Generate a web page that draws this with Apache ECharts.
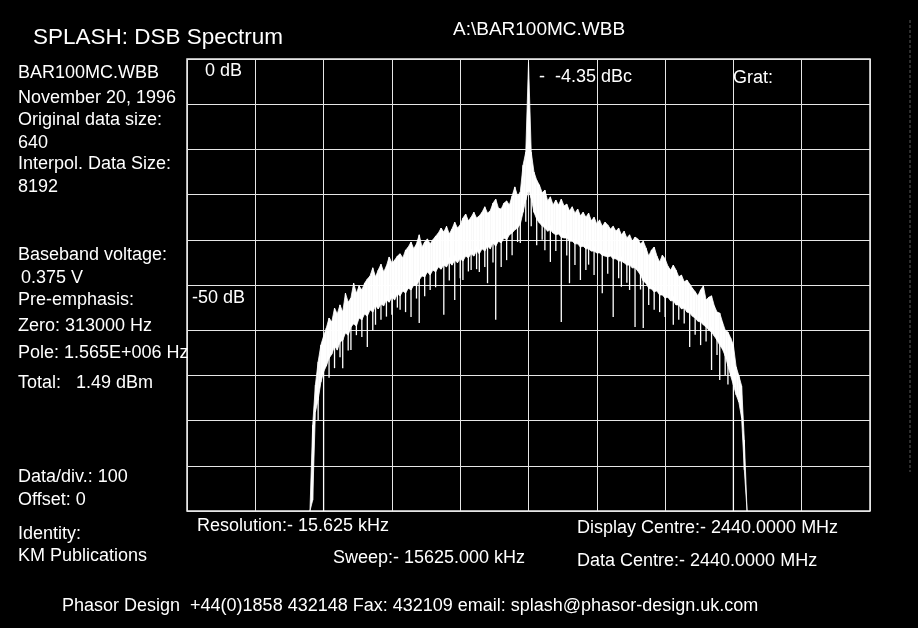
<!DOCTYPE html>
<html>
<head>
<meta charset="utf-8">
<script src="https://cdn.jsdelivr.net/npm/echarts@6/dist/echarts.min.js"></script>
<style>
html,body{margin:0;padding:0;background:#000;}
#c{width:918px;height:628px;}
</style>
</head>
<body>
<div id="c"></div>
<script>
// Sweep: 15625 kHz span, centre 2440 MHz, 10 divisions; level 0 .. -100 dB, 10 dB/div
const spanMinKHz = -7812.5, spanMaxKHz = 7812.5, divKHz = 1562.5;
const levelMin = -100, levelMax = 0, divDb = 10;

// Spectrum trace sampled every 62.5 kHz from -5000 kHz to +5000 kHz
const startKHz = -5000, stepKHz = 62.5;
// upper edge of the trace (dB)
const upperDb = [
-100.0,-81.0,-72.1,-67.0,-63.3,-61.3,-59.5,-57.3,-58.2,-55.1,
-56.4,-54.4,-56.0,-51.8,-53.8,-52.9,-49.6,-51.8,-50.2,-51.1,
-49.6,-48.7,-48.0,-46.2,-48.2,-46.7,-45.4,-47.1,-45.8,-43.8,
-45.1,-44.5,-43.6,-43.1,-44.0,-42.3,-41.6,-40.5,-42.0,-40.9,
-38.9,-41.6,-40.5,-39.8,-40.9,-40.0,-39.2,-38.5,-37.4,-38.3,
-37.0,-38.7,-37.6,-36.1,-37.4,-36.7,-35.2,-34.3,-35.8,-35.0,
-33.9,-35.2,-34.7,-33.9,-32.7,-34.1,-33.6,-31.9,-31.0,-33.0,
-33.2,-31.9,-31.4,-32.3,-30.3,-28.3,-30.3,-29.4,-23.5,-20.6,
-0.7,
-20.6,-25.0,-26.8,-27.9,-29.6,-29.0,-31.4,-30.5,-32.3,-31.2,
-32.3,-31.0,-32.5,-32.1,-33.6,-32.7,-34.1,-33.2,-34.7,-33.9,
-35.0,-34.1,-35.8,-35.0,-36.5,-35.6,-37.0,-36.1,-36.7,-37.6,
-37.0,-38.1,-37.4,-38.9,-38.1,-39.6,-38.9,-40.3,-39.4,-39.8,
-40.9,-40.3,-41.8,-43.6,-42.3,-41.6,-43.6,-44.9,-43.4,-44.2,
-45.8,-46.7,-45.6,-46.7,-48.2,-47.8,-49.3,-48.9,-49.8,-50.7,
-51.5,-52.4,-51.1,-50.2,-53.3,-52.7,-52.4,-54.6,-56.0,-56.2,
-58.2,-60.0,-60.4,-61.7,-63.3,-68.1,-70.1,-72.3,-84.3,-100.0
];
// lower edge of the dense trace body (dB)
const lowerDb = [
-100.0,-97.6,-78.1,-75.4,-71.5,-69.2,-67.9,-66.2,-65.3,-63.5,
-64.4,-62.6,-62.2,-60.6,-61.1,-59.3,-58.6,-59.1,-57.3,-57.7,
-56.4,-56.9,-55.5,-56.0,-54.6,-55.3,-54.2,-54.6,-53.3,-53.8,
-52.7,-53.3,-52.0,-52.4,-51.3,-51.8,-50.7,-51.1,-50.0,-50.2,
-48.9,-48.0,-48.2,-47.1,-47.8,-46.7,-47.1,-46.0,-46.5,-45.6,
-46.0,-44.9,-45.6,-44.5,-45.1,-44.2,-44.7,-43.6,-44.0,-43.1,
-43.6,-42.5,-43.1,-42.0,-42.5,-41.4,-42.0,-40.7,-41.4,-40.3,
-40.7,-39.6,-40.0,-38.9,-38.5,-37.8,-37.4,-36.5,-33.9,-31.2,
-29.0,
-30.8,-33.9,-35.4,-36.3,-36.9,-37.4,-38.1,-37.8,-38.5,-38.9,
-38.7,-39.4,-39.6,-39.6,-40.3,-40.3,-40.9,-40.9,-41.6,-41.4,
-42.0,-42.0,-42.5,-42.5,-42.9,-42.9,-43.4,-43.6,-43.8,-43.6,
-44.2,-44.2,-44.7,-44.7,-45.1,-45.6,-45.6,-46.2,-46.2,-46.9,
-47.8,-49.1,-49.6,-50.7,-50.9,-51.5,-51.3,-52.2,-52.2,-52.9,
-52.7,-53.5,-53.5,-54.4,-54.4,-55.3,-55.1,-56.0,-56.2,-56.9,
-57.3,-58.0,-58.2,-58.8,-59.3,-60.0,-60.4,-61.3,-62.2,-63.3,
-64.2,-65.7,-67.9,-70.1,-72.1,-74.3,-75.9,-79.4,-90.9,-100.0
];
// downward spikes below the trace body (frequency kHz, level dB)
const spikeKHz = [-4687.5,-4437.5,-4250,-4062.5,-3937.5,-3687.5,-3500,-3375,-3125,-2937.5,
-2687.5,-2500,-2250,-1937.5,-1687.5,-1500,-1312.5,-1125,-937.5,-750,-500,-375,-187.5,
187.5,375,500,750,937.5,1062.5,1187.5,1312.5,1500,1687.5,1937.5,2125,2312.5,2437.5,
2625,2750,2875,3125,3312.5,3437.5,3687.5,3937.5,4187.5,4375,4500,4687.5,
-4812.5,-4562.5,-4312.5,-4125,-3812.5,-3562.5,-3250,-3000,-2812.5,-2562.5,-2375,-2125,
-1812.5,-1562.5,-1375,-1187.5,-1000,-812.5,-625,-250,-62.5,62.5,312.5,625,875,1375,
1812.5,2062.5,2250,2562.5,3000,3562.5,3812.5,4062.5,4312.5,4562.5];
const spikeDb = [-100,-68.4,-68.4,-64.4,-61.1,-63.7,-58.8,-57.7,-56.6,-55.5,
-57.1,-58.4,-51.1,-56.6,-53.3,-48.9,-46.7,-47.1,-49.6,-57.7,-44.5,-43.4,-40.7,
-41.2,-42.3,-44.9,-58.2,-49.6,-45.6,-48.9,-46.7,-47.8,-51.8,-57.1,-50.4,-51.1,-59.3,
-59.5,-54.4,-55.5,-57.1,-58.8,-57.7,-63.7,-63.3,-68.8,-71.0,-69.9,-100,
-80.0,-70.5,-66.0,-64.5,-61.5,-60.0,-57.0,-55.0,-56.0,-53.0,-52.5,-50.5,
-49.0,-48.5,-47.0,-46.5,-46.0,-45.0,-46.0,-40.5,-36.0,-37.0,-40.0,-42.5,-43.5,-45.5,
-47.5,-48.5,-49.5,-51.0,-56.0,-58.5,-61.0,-62.5,-65.5,-72.0];

// Texts
const titleText = 'SPLASH: DSB Spectrum';
const fileText = 'A:\\BAR100MC.WBB';
const panelTexts = ['BAR100MC.WBB','November 20, 1996','Original data size:','640','Interpol. Data Size:','8192',
 'Baseband voltage:','0.375 V','Pre-emphasis:','Zero: 313000 Hz','Pole: 1.565E+006 Hz','Total:   1.49 dBm',
 'Data/div.: 100','Offset: 0','Identity:','KM Publications'];
const gridTexts = ['0 dB','-50 dB','-  -4.35 dBc','Grat:'];
const footTexts = ['Resolution:- 15.625 kHz','Display Centre:- 2440.0000 MHz','Sweep:- 15625.000 kHz',
 'Data Centre:- 2440.0000 MHz','Phasor Design  +44(0)1858 432148 Fax: 432109 email: splash@phasor-design.uk.com'];

// Layout (pixel positions of the annotation texts)
const panelPos = [[18,73],[18,98],[18,120],[18,143],[18,164],[18,187],[18,255],[21,278],[18,300],[18,326],[18,353],[18,383],[18,477],[18,500],[18,534],[18,556]];
const gridPos = [[205,71],[192,298],[539,77],[733,78]];
const footPos = [[197,526],[577,528],[333,558],[577,561],[62,606]];

const FONT = '"Liberation Sans", Arial, sans-serif';
const freq = upperDb.map((_, i) => startKHz + i * stepKHz);

const graphics = [];
graphics.push({type:'text', left: 33, top: 26, style:{text:titleText, fill:'#fff', font:'22.5px ' + FONT}});
graphics.push({type:'text', left: 453, top: 20, style:{text:fileText, fill:'#fff', font:'19px ' + FONT}});
const addTexts = (arr, pos, size) => arr.forEach((t, i) => graphics.push({
  type:'text', x: pos[i][0], y: pos[i][1],
  style:{text:t, fill:'#fff', font: size + 'px ' + FONT, verticalAlign:'middle', align:'left'}, z: 10
}));
addTexts(panelTexts, panelPos, 18);
addTexts(gridTexts, gridPos, 18);
addTexts(footTexts, footPos, 18);
graphics.push({type:'line', shape:{x1:910,y1:20,x2:910,y2:472}, style:{stroke:'#5a5a5a', lineWidth:1, lineDash:[3,2]}});

const chart = echarts.init(document.getElementById('c'), null, {renderer:'canvas'});
chart.setOption({
  backgroundColor: '#000',
  animation: false,
  grid: {left:187, right:48, top:59, bottom:117, show:true, borderColor:'#f0f0f0', borderWidth:1.5, backgroundColor:'transparent'},
  xAxis: {type:'value', min:spanMinKHz, max:spanMaxKHz, interval:divKHz,
    axisLine:{show:false}, axisTick:{show:false}, axisLabel:{show:false},
    splitLine:{show:true, lineStyle:{color:'#e6e6e6', width:1}}},
  yAxis: {type:'value', min:levelMin, max:levelMax, interval:divDb,
    axisLine:{show:false}, axisTick:{show:false}, axisLabel:{show:false},
    splitLine:{show:true, lineStyle:{color:'#e6e6e6', width:1}}},
  graphic: graphics,
  series: [
    {type:'custom', name:'trace', z:3,
     data: freq.map((f, i) => [f, upperDb[i], lowerDb[i]]),
     renderItem: (params, api) => {
       const i = params.dataIndex;
       if (i >= freq.length - 1) return null;
       const a1 = api.coord([freq[i], upperDb[i]]);
       const b1 = api.coord([freq[i + 1], upperDb[i + 1]]);
       const b2 = api.coord([freq[i + 1], lowerDb[i + 1]]);
       const a2 = api.coord([freq[i], lowerDb[i]]);
       return {type:'polygon', shape:{points:[a1, b1, b2, a2]},
               style:{fill:'#fff', stroke:'#fff', lineWidth:0.8}};
     }},
    {type:'custom', name:'spikes', z:4,
     data: spikeKHz.map((f, i) => [f, spikeDb[i]]),
     renderItem: (params, api) => {
       const f = api.value(0), d = api.value(1);
       const idx = Math.round((f - startKHz) / stepKHz);
       const p1 = api.coord([f, lowerDb[idx] + 1]);
       const p2 = api.coord([f, d]);
       return {type:'line', shape:{x1:p1[0], y1:p1[1], x2:p2[0], y2:p2[1]}, style:{stroke:'#fff', lineWidth:1.3}};
     }}
  ]
});
</script>
</body>
</html>
